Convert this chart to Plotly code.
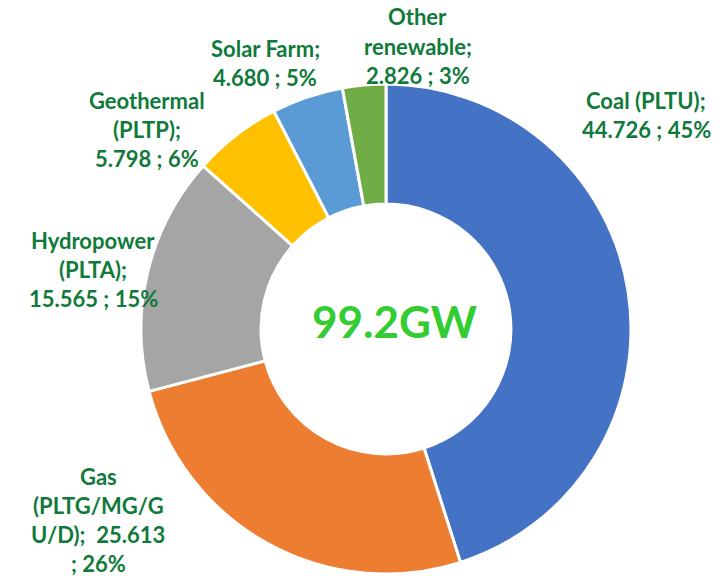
import plotly.graph_objects as go

# Installed capacity by plant type (GW)
names = ["Coal (PLTU)", "Gas (PLTG/MG/GU/D)", "Hydropower (PLTA)",
         "Geothermal (PLTP)", "Solar Farm", "Other renewable"]
values = [44.726, 25.613, 15.565, 5.798, 4.680, 2.826]
colors = ["#4472C4", "#ED7D31", "#A5A5A5", "#FFC000", "#5B9BD5", "#70AD47"]

# Label lines as wrapped in the chart
label_lines = [
    ["Coal (PLTU);", "44.726 ; 45%"],
    ["Gas", "(PLTG/MG/G", "U/D);  25.613", "; 26%"],
    ["Hydropower", "(PLTA);", "15.565 ; 15%"],
    ["Geothermal", "(PLTP);", "5.798 ; 6%"],
    ["Solar Farm;", "4.680 ; 5%"],
    ["Other", "renewable;", "2.826 ; 3%"],
]
# Label block centres in pixels (x from left, y from top)
label_pos = [(646, 115), (98, 520), (93, 269), (147, 129), (265, 63), (418, 46)]

total = sum(values)
W, H = 728, 576
cx, cy, r = 386, 329, 245

fig = go.Figure(go.Pie(
    labels=names,
    values=values,
    sort=False,
    direction="clockwise",
    rotation=0,
    hole=0.51,
    marker=dict(colors=colors, line=dict(color="white", width=3)),
    textinfo="none",
    hoverinfo="label+value+percent",
    showlegend=False,
    domain=dict(x=[(cx - r) / W, (cx + r) / W],
                y=[(H - cy - r) / H, (H - cy + r) / H]),
))

LINE_H = 29
annotations = []
for lines, (px, py) in zip(label_lines, label_pos):
    n = len(lines)
    for i, line in enumerate(lines):
        ly = py + (i - (n - 1) / 2) * LINE_H
        annotations.append(dict(
            x=px / W, y=1 - ly / H, xref="paper", yref="paper",
            text=f"<b>{line}</b>", showarrow=False,
            xanchor="center", yanchor="middle",
            font=dict(family="Lato", size=22, color="#107A3B"),
        ))

annotations.append(dict(
    x=394 / W, y=1 - 321 / H, xref="paper", yref="paper",
    text=f"<b>{total:.1f}GW</b>", showarrow=False,
    xanchor="center", yanchor="middle",
    font=dict(family="Lato", size=44, color="#33CC33"),
))

fig.update_layout(
    width=W, height=H,
    margin=dict(l=0, r=0, t=0, b=0),
    paper_bgcolor="white",
    plot_bgcolor="white",
    annotations=annotations,
)

fig.write_html("out.html")
